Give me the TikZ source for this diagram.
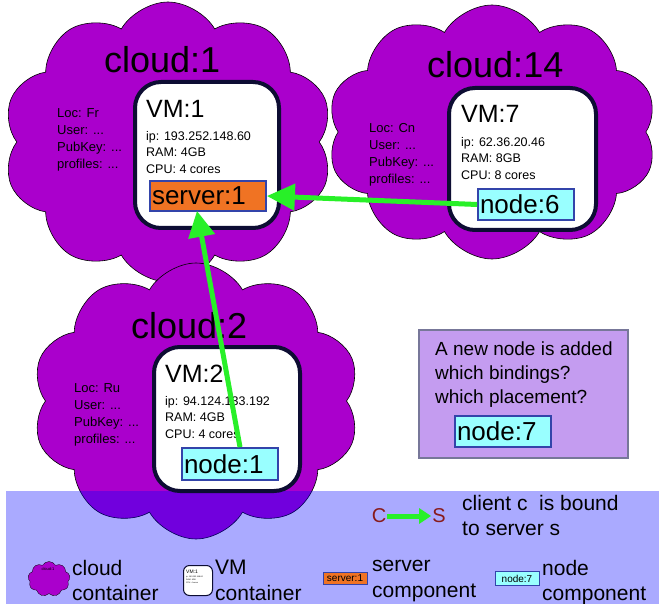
\documentclass[tikz,border=0pt]{standalone}
\usepackage{fontspec}
\setmainfont{Liberation Sans}
\usetikzlibrary{shapes.symbols,arrows.meta,calc}
\definecolor{cloudfill}{RGB}{170,0,204}
\definecolor{vmborder}{RGB}{13,13,51}
\definecolor{srvfill}{RGB}{240,115,35}
\definecolor{compborder}{RGB}{51,68,170}
\definecolor{nodefill}{RGB}{153,255,255}
\definecolor{qfill}{RGB}{196,156,240}
\definecolor{qborder}{RGB}{119,119,153}
\definecolor{bindgreen}{RGB}{40,240,40}
\definecolor{csred}{RGB}{136,26,26}
\begin{document}
\begin{tikzpicture}[x=1pt,y=-1pt,
  cloudbox/.style={cloud, cloud puffs=10, cloud puff arc=120, cloud ignores aspect, draw=black, line width=0.6pt, fill=cloudfill, inner sep=0pt},
  vmbox/.style={draw=vmborder, line width=4pt, fill=white, rounded corners=26pt, inner sep=0pt},
  comp/.style={draw=compborder, line width=1.8pt, inner xsep=2pt, inner ysep=0pt, align=left, font=\fontsize{26}{26}\selectfont},
  srvbox/.style={comp, fill=srvfill},
  nodebox/.style={comp, fill=nodefill},
  cloudlabel/.style={anchor=base west, inner sep=0pt, font=\fontsize{36}{36}\selectfont},
  vmlabel/.style={anchor=base west, inner sep=0pt, font=\fontsize{25}{25}\selectfont},
  loctext/.style={anchor=north west, inner sep=0pt, align=left, font=\fontsize{13}{16.8}\selectfont},
  infotext/.style={anchor=north west, inner sep=0pt, align=left, font=\fontsize{12.5}{16.6}\selectfont},
  legtext/.style={anchor=north west, inner sep=0pt, align=left, font=\fontsize{21}{25.5}\selectfont},
  bind/.style={draw=bindgreen, line width=5pt},
]
\useasboundingbox (0,0) rectangle (659,604);

% clouds
\node[cloudbox, minimum width=330pt, minimum height=280pt] (cloud1) at (168,142) {};
\node[cloudbox, minimum width=330pt, minimum height=254pt] (cloud14) at (492,132) {};
\node[cloudbox, minimum width=328pt, minimum height=276pt] (cloud2) at (196,401) {};

% legend band
\fill[blue, fill opacity=0.333] (6,491) rectangle (659,604);

% cloud labels
\node[cloudlabel] (c1lab) at (104,73) {cloud:1};
\node[cloudlabel] (c14lab) at (427,78) {cloud:14};
\node[cloudlabel] (c2lab) at (131,338) {cloud:2};

% cloud info
\node[loctext] (c1info) at (57,108.7) {Loc: Fr\\User: ...\\PubKey: ...\\profiles: ...};
\node[loctext] (c14info) at (369,123.7) {Loc: Cn\\User: ...\\PubKey: ...\\profiles: ...};
\node[loctext] (c2info) at (74,383.7) {Loc: Ru\\User: ...\\PubKey: ...\\profiles: ...};

% VM boxes
\node[vmbox, minimum width=144pt, minimum height=146pt] (vm1) at (207,155) {};
\node[vmbox, minimum width=147pt, minimum height=142pt] (vm7) at (522.5,159) {};
\node[vmbox, minimum width=146pt, minimum height=144pt] (vm2) at (227,419) {};

\node[vmlabel] (vm1lab) at (146,118) {VM:1};
\node[vmlabel] (vm7lab) at (461,123) {VM:7};
\node[vmlabel] (vm2lab) at (165,382) {VM:2};

\node[infotext] (vm1info) at (146,131) {ip: 193.252.148.60\\RAM: 4GB\\CPU: 4 cores};
\node[infotext] (vm7info) at (461,137) {ip: 62.36.20.46\\RAM: 8GB\\CPU: 8 cores};
\node[infotext] (vm2info) at (165,396) {ip: 94.124.133.192\\RAM: 4GB\\CPU: 4 cores};

% components
\node[srvbox, text width=112pt, minimum height=30pt] (server1) at (208,196) {server:1};
\node[nodebox, text width=92pt, minimum height=31pt] (node6) at (526,204.5) {node:6};
\node[nodebox, text width=92pt, minimum height=32pt] (node1) at (230,464) {node:1};

% bindings
\draw[bind, -{Triangle[length=28pt,width=26pt]}] (node6.west) -- (server1.east);
\draw[bind, -{Triangle[length=26pt,width=26pt]}] ($(node1.north)+(10,0)$) -- ($(server1.south)+(-11,-1)$);

% question box
\node[draw=qborder, line width=1.2pt, fill=qfill, minimum width=209pt, minimum height=128pt, inner sep=0pt] (qbox) at (523.5,394) {};
\node[anchor=north west, inner sep=0pt, align=left, font=\fontsize{19}{24}\selectfont] (qtext) at (435,341.4) {A new node is added\\which bindings?\\which placement?};
\node[nodebox, text width=92pt, minimum height=31pt] (node7) at (503,431.5) {node:7};

% legend: binding
\node[text=csred, inner sep=1pt, font=\fontsize{20}{20}\selectfont] (legC) at (379,516) {C};
\node[text=csred, inner sep=1pt, font=\fontsize{20}{20}\selectfont] (legS) at (439,516) {S};
\draw[bind, -{Triangle[length=12pt,width=15pt]}] (legC) -- (legS);
\node[legtext] (legbind) at (462,495) {client c~ is bound\\to server s};

% legend: cloud
\node[cloudbox, cloud puffs=9, line width=0.3pt, minimum width=42pt, minimum height=35pt] (legcloud) at (49,579) {};
\node[inner sep=0pt, font=\fontsize{4}{4}\selectfont] (legcloudlab) at (48,569) {cloud:1};
\node[legtext] (legcloudtxt) at (72,560) {cloud\\container};

% legend: VM
\node[draw=vmborder, line width=1pt, fill=white, rounded corners=6pt, minimum width=29pt, minimum height=30pt, inner sep=0pt] (legvm) at (198,580.5) {};
\node[anchor=base west, inner sep=0pt, font=\fontsize{5}{5}\selectfont] (legvmlab) at (186,573) {VM:1};
\node[anchor=north west, inner sep=0pt, align=left, font=\fontsize{2}{3}\selectfont] (legvminfo) at (186,575.5) {ip: 193.252.148.60\\RAM: 4GB\\CPU: 4 cores};
\node[legtext] (legvmtxt) at (215,560) {VM\\container};

% legend: server
\node[draw=compborder, line width=0.8pt, fill=srvfill, minimum width=44pt, minimum height=12pt, inner sep=0pt, font=\fontsize{10}{10}\selectfont] (legsrv) at (345,578.5) {server:1};
\node[legtext] (legsrvtxt) at (372,560) {server\\component};

% legend: node
\node[draw=compborder, line width=0.8pt, fill=nodefill, minimum width=44pt, minimum height=14pt, inner sep=0pt, font=\fontsize{10}{10}\selectfont] (legnode) at (517,578.5) {node:7};
\node[legtext] (legnodetxt) at (542,560) {node\\component};
\end{tikzpicture}
\end{document}
